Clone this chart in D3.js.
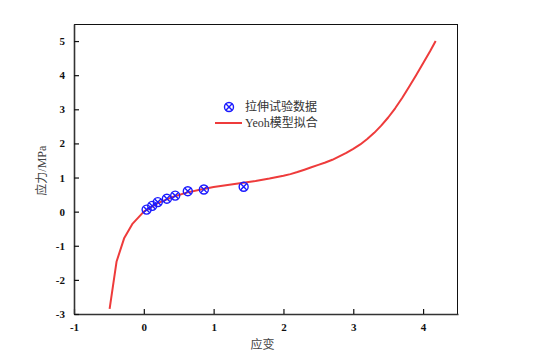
<!DOCTYPE html>
<html>
<head>
<meta charset="utf-8">
<script src="https://cdn.jsdelivr.net/npm/d3@7"></script>
<style>
  body { margin: 0; background: #fff; }
  .tick text { font-family: "Liberation Serif", "Times New Roman", serif; font-weight: bold; font-size: 11px; fill: #111; }
</style>
</head>
<body>
<div id="chart"></div>
<script>
// test data (strain, stress)
var testStrain = [0.04, 0.12, 0.20, 0.33, 0.45, 0.63, 0.86, 1.43];
var testStress = [0.06, 0.17, 0.28, 0.38, 0.47, 0.60, 0.65, 0.73];

// Yeoh fit curve
var fitStrain = [-0.49, -0.39, -0.28, -0.16, 0, 0.2, 0.4, 0.6, 0.8, 1.0, 1.2, 1.4, 1.6, 1.8, 2.0, 2.1, 2.2, 2.3, 2.4, 2.5, 2.6, 2.7, 2.8, 2.9, 3.0, 3.1, 3.2, 3.3, 3.4, 3.5, 3.6, 3.7, 3.8, 3.9, 4.0, 4.1, 4.18];
var fitStress = [-2.85, -1.46, -0.77, -0.35, 0, 0.25, 0.42, 0.55, 0.64, 0.72, 0.78, 0.84, 0.90, 0.97, 1.05, 1.10, 1.16, 1.23, 1.30, 1.37, 1.44, 1.52, 1.62, 1.72, 1.84, 1.97, 2.13, 2.31, 2.52, 2.76, 3.03, 3.33, 3.66, 4.00, 4.35, 4.70, 5.0];

var xTicks = [-1, 0, 1, 2, 3, 4];
var yTicks = [-3, -2, -1, 0, 1, 2, 3, 4, 5];
var legendLabels = ['拉伸试验数据', 'Yeoh模型拟合'];

const width = 534, height = 359;
var margin = { top: 24, right: 76, bottom: 45, left: 74 };
var w = width - margin.left - margin.right;
var h = height - margin.top - margin.bottom;

var svg = d3.select('#chart').append('svg')
    .attr('width', width).attr('height', height);
var g = svg.append('g')
    .attr('transform', 'translate(' + margin.left + ',' + margin.top + ')');

var x = d3.scaleLinear().domain([-1, 4.5]).range([0, w]);
var y = d3.scaleLinear().domain([-3, 5.5]).range([h, 0]);

// plain hyphen minus, integers
var fmt = function (d) { return String(d); };

// frame top / right
g.append('line').attr('x1', 0).attr('x2', w).attr('y1', 0.5).attr('y2', 0.5)
    .attr('stroke', '#111').attr('stroke-width', 1);
g.append('line').attr('x1', w - 0.5).attr('x2', w - 0.5).attr('y1', 0).attr('y2', h)
    .attr('stroke', '#111').attr('stroke-width', 1);

// axes, ticks pointing inward
var xAxis = g.append('g').attr('transform', 'translate(0,' + h + ')')
    .call(d3.axisBottom(x).tickValues(xTicks).tickFormat(fmt).tickSize(-5).tickPadding(9).tickSizeOuter(0));
var yAxis = g.append('g')
    .call(d3.axisLeft(y).tickValues(yTicks).tickFormat(fmt).tickSize(-5).tickPadding(9).tickSizeOuter(0));
[xAxis, yAxis].forEach(function (a) {
    a.select('.domain').attr('stroke', '#333').attr('stroke-width', 1.6);
    a.selectAll('.tick line').attr('stroke', '#111').attr('stroke-width', 1.2);
});

// fit line
var line = d3.line()
    .x(function (d, i) { return x(fitStrain[i]); })
    .y(function (d, i) { return y(fitStress[i]); });
g.append('path').datum(fitStrain)
    .attr('d', line)
    .attr('fill', 'none')
    .attr('stroke', '#ee3b3b')
    .attr('stroke-width', 2)
    .attr('stroke-linejoin', 'round');

// markers: circle with cross
function marker(sel, r) {
    sel.append('circle').attr('r', r).attr('fill', 'none')
        .attr('stroke', '#1a1aff').attr('stroke-width', 1.4);
    var k = r * 0.7;
    sel.append('path').attr('d', 'M' + (-k) + ',' + (-k) + 'L' + k + ',' + k + 'M' + (-k) + ',' + k + 'L' + k + ',' + (-k))
        .attr('stroke', '#1a1aff').attr('stroke-width', 1.4);
}
g.selectAll('.pt').data(testStrain).enter().append('g')
    .attr('class', 'pt')
    .attr('transform', function (d, i) { return 'translate(' + x(d) + ',' + y(testStress[i]) + ')'; })
    .each(function () { marker(d3.select(this), 4.5); });

// legend
var leg = svg.append('g').attr('transform', 'translate(215,107)');
marker(leg.append('g').attr('transform', 'translate(14,0)'), 4.5);
leg.append('line').attr('x1', 0).attr('x2', 27).attr('y1', 16).attr('y2', 16)
    .attr('stroke', '#ee3b3b').attr('stroke-width', 2);
leg.selectAll('.lt').data(legendLabels).enter().append('text')
    .attr('x', 30).attr('y', function (d, i) { return i * 16 + 4; })
    .attr('font-family', '"Liberation Serif", "Noto Sans CJK SC", serif')
    .attr('font-size', 12).attr('fill', '#333')
    .text(function (d) { return d; });

// axis titles
svg.append('text').attr('x', margin.left + x(1.7)).attr('y', 349)
    .attr('text-anchor', 'middle')
    .attr('font-family', '"Noto Sans CJK SC", sans-serif').attr('font-size', 12).attr('fill', '#444')
    .text('应变');
svg.append('text')
    .attr('transform', 'translate(46,' + (margin.top + y(1.2)) + ') rotate(-90)')
    .attr('text-anchor', 'middle')
    .attr('font-family', '"Liberation Serif", "Noto Sans CJK SC", serif').attr('font-size', 12).attr('fill', '#444')
    .text('应力/MPa');
</script>
</body>
</html>
